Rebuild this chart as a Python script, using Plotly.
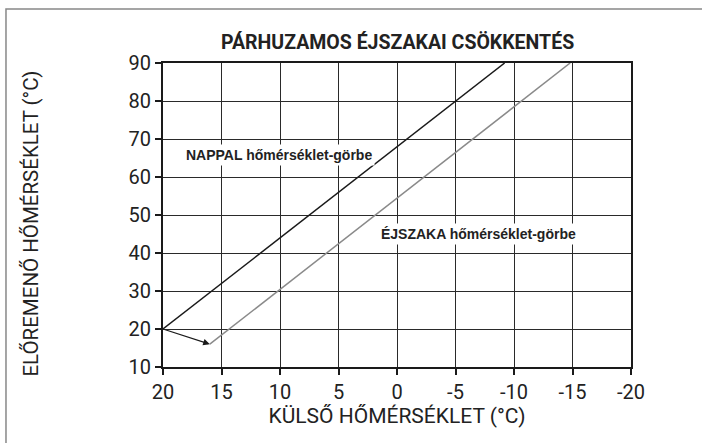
import plotly.graph_objects as go

# Heating curves: outside temperature (°C) -> flow temperature (°C)
day_x = [20, -9.2]
day_y = [20, 90]
night_x = [16, -14.8]
night_y = [16, 90]

x_ticks = [20, 15, 10, 5, 0, -5, -10, -15, -20]
y_ticks = [10, 20, 30, 40, 50, 60, 70, 80, 90]

title_text = "PÁRHUZAMOS ÉJSZAKAI CSÖKKENTÉS"
x_title = "KÜLSŐ HŐMÉRSÉKLET (°C)"
y_title = "ELŐREMENŐ HŐMÉRSÉKLET (°C)"
day_label = "NAPPAL hőmérséklet-görbe"
night_label = "ÉJSZAKA hőmérséklet-görbe"

NARROW = "Roboto, Liberation Sans, sans-serif"
BOLD = "Liberation Sans, Arial, sans-serif"
INK = "#222"

fig = go.Figure()
fig.add_trace(go.Scatter(x=day_x, y=day_y, mode="lines",
                         line=dict(color="#1a1a1a", width=1.5),
                         hoverinfo="skip", showlegend=False))
fig.add_trace(go.Scatter(x=night_x, y=night_y, mode="lines",
                         line=dict(color="#8a8a8a", width=1.5),
                         hoverinfo="skip", showlegend=False))

# shift arrow from the day curve start to the night curve start
fig.add_annotation(x=night_x[0], y=night_y[0], ax=day_x[0], ay=day_y[0],
                   xref="x", yref="y", axref="x", ayref="y",
                   text="", showarrow=True, arrowhead=2, arrowsize=1.1,
                   arrowwidth=1.2, arrowcolor="#1a1a1a", standoff=0)

fig.add_annotation(x=18.3, y=65.8, xref="x", yref="y", text=f"<b>{day_label}</b>",
                   showarrow=False, xanchor="left", yanchor="middle",
                   font=dict(family=BOLD, size=14, color=INK),
                   bgcolor="white", borderpad=2)
fig.add_annotation(x=1.6, y=45, xref="x", yref="y", text=f"<b>{night_label}</b>",
                   showarrow=False, xanchor="left", yanchor="middle",
                   font=dict(family=BOLD, size=14, color=INK),
                   bgcolor="white", borderpad=2)

fig.add_annotation(x=0.5, y=1.022, xref="paper", yref="paper",
                   text=f"<b>{title_text}</b>", showarrow=False,
                   xanchor="center", yanchor="bottom",
                   font=dict(family=NARROW, size=19.5, color=INK))

# rotated y-axis title
fig.add_annotation(x=-0.284, y=0.472, xref="paper", yref="paper",
                   text=y_title, showarrow=False, textangle=-90,
                   xanchor="center", yanchor="middle",
                   font=dict(family=NARROW, size=20.5, color=INK))

# outer frame around the figure
fig.add_shape(type="rect", xref="paper", yref="paper",
              x0=-0.3355, x1=2.0, y0=-1.0, y1=1.1776,
              line=dict(color="#888", width=1.5), fillcolor="rgba(0,0,0,0)",
              layer="below")

fig.update_xaxes(range=[20, -20], tickvals=x_ticks, ticktext=[str(v) for v in x_ticks],
                 showgrid=True, gridcolor="#2a2a2a", gridwidth=1,
                 showline=True, linecolor="#1a1a1a", linewidth=2, mirror=True,
                 ticks="outside", ticklen=6, tickcolor="#1a1a1a", tickwidth=1.5,
                 zeroline=False,
                 tickfont=dict(family=NARROW, size=20, color=INK),
                 title=dict(text=x_title, font=dict(family=NARROW, size=21, color=INK),
                            standoff=4))
fig.update_yaxes(range=[10, 90], tickvals=y_ticks,
                 showgrid=True, gridcolor="#2a2a2a", gridwidth=1,
                 showline=True, linecolor="#1a1a1a", linewidth=2, mirror=True,
                 ticks="outside", ticklen=6, tickcolor="#1a1a1a", tickwidth=1.5,
                 zeroline=False,
                 tickfont=dict(family=NARROW, size=20, color=INK))

fig.update_layout(width=702, height=443,
                  margin=dict(l=163, r=71, t=63, b=76),
                  paper_bgcolor="white", plot_bgcolor="white",
                  showlegend=False)

fig.write_html("out.html")
